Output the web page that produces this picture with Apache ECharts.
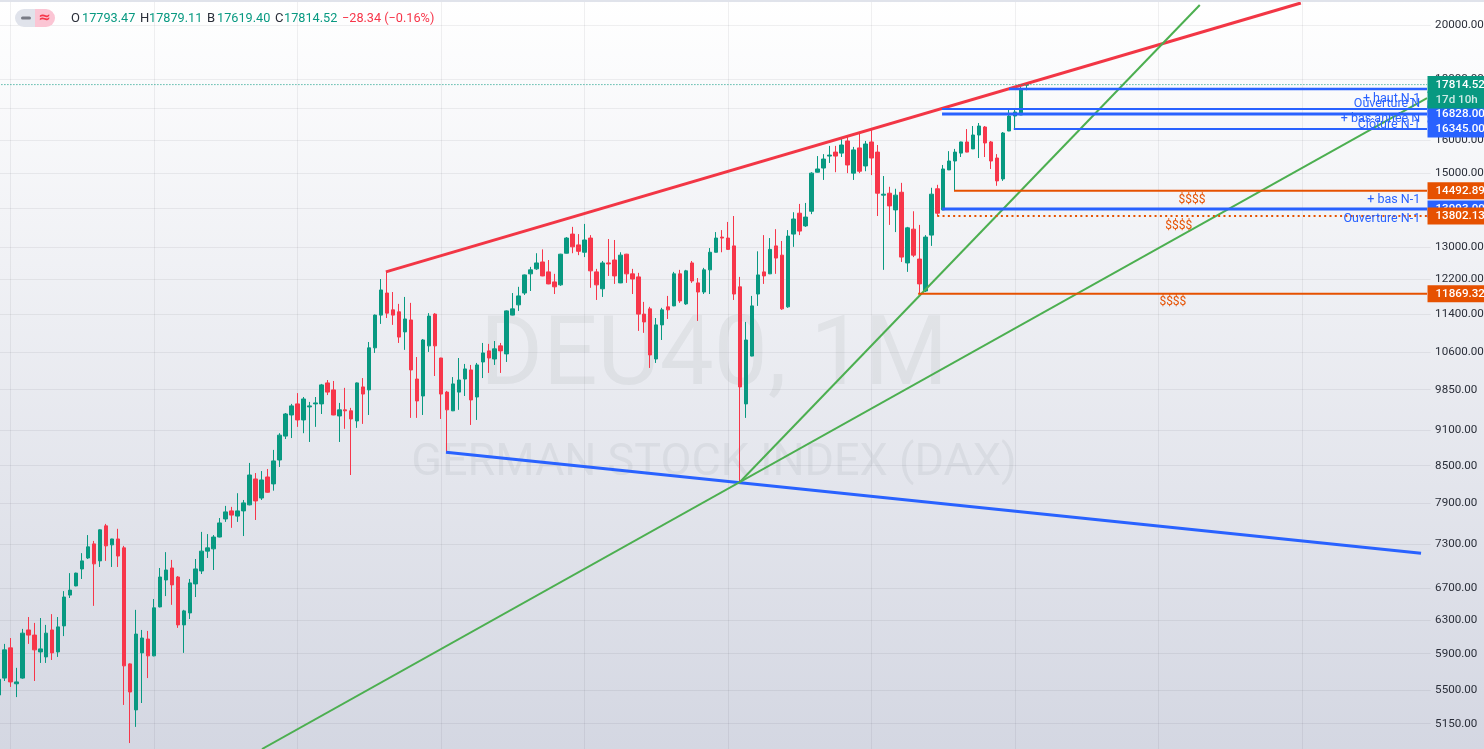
<!DOCTYPE html>
<html>
<head>
<meta charset="utf-8">
<style>html,body{margin:0;padding:0;overflow:hidden;background:#fff}#c{width:1484px;height:749px}</style>
<script src="https://cdn.jsdelivr.net/npm/echarts@6/dist/echarts.min.js"></script>
</head>
<body>
<div id="c"></div>
<script>
// monthly candles [open, close, low, high], first month Nov 2009
const monthlyOHLC = [
[5445,5614,5392,5641],[5627,5944,5595,6013],[5967,5585,5531,6082],[5565,5585,5423,5740],[5627,6140,5620,6191],
[6178,6117,6013,6335],[6117,5944,5595,6263],[5920,5955,5795,6323],[5863,6140,5795,6239],[6178,5909,5828,6371],
[5920,6215,5863,6335],[6227,6586,6105,6662],[6611,6675,6574,6899],[6730,6899,6725,6905],[6955,7065,6821,7172],
[7105,7260,7091,7428],[7302,7024,6474,7344],[7065,7504,6982,7510],[7562,7274,7065,7591],[7288,7372,6982,7375],
[7372,7132,6982,7519],[7246,5762,5341,7274],[5784,5477,4960,5790],[5290,6129,5118,6424],[5909,6082,5361,6178],
[6070,5875,5627,6166],[5875,6449,5870,6561],[6461,6847,6455,6968],[6808,6941,6598,7186],[6968,6743,6487,7078],
[6847,6239,6203,6860],[6239,6411,5909,6424],[6386,6769,6311,6821],[6756,6955,6586,7091],[6928,7200,6887,7474],
[7200,7246,7105,7442],[7232,7400,6941,7428],[7400,7605,7395,7678],[7664,7770,7620,7861],[7785,7722,7533,7846],
[7707,7785,7620,8057],[7785,7907,7414,7952],[7877,8347,7870,8545],[8283,7937,7649,8379],[7982,8267,7952,8411],
[8315,8072,8065,8445],[8204,8578,8097,8764],[8594,9019,8479,9053],[9002,9397,8951,9415],[9379,9546,8968,9583],
[9583,9289,9165,9786],[9289,9675,9053,9712],[9527,9546,8900,9620],[9583,9601,9165,9712],[9583,9943,9397,9962],
[9981,9805,9749,10038],[9847,9379,9375,10019],[9361,9473,8900,9601],[9473,9455,9130,9886],[9455,9307,8347,9509],
[9271,9981,9147,9990],[9904,9768,9218,10076],[9847,10685,9379,10807],[10685,11386,10580,11400],[11386,11956,11193,12213],
[11885,11430,11322,12383],[11503,11386,11172,11908],[11459,10911,10787,11637],[11021,11301,10643,11795],[11279,10236,9326,11660],
[10057,9638,9326,10496],[9731,10849,9379,10870],[10726,11364,10600,11430],[11408,10726,10116,11430],[10476,9768,9307,10480],
[9805,9473,8713,9828],[9455,9962,9450,10095],[9805,10038,9473,10476],[10057,10256,9731,10356],[10236,9657,9199,10336],
[9712,10336,9289,10376],[10396,10580,10076,10787],[10622,10476,10177,10767],[10456,10664,10336,10828],[10726,10622,10177,10787],
[10560,11480,10396,11490],[11386,11525,11380,11885],[11615,11818,11480,12029],[11885,12310,11840,12320],[12336,12432,11932,12504],
[12456,12600,12432,12840],[12624,12286,12280,12936],[12383,12097,12090,12672],[12144,12029,11862,12336],[12075,12816,12052,12825],
[12840,13224,12835,13249],[13326,13000,12840,13514],[13049,12888,12792,13326],[12864,13174,12744,13592],[13224,12408,12006,13300],
[12383,12075,11726,12456],[11983,12600,11795,12648],[12600,12576,12286,13199],[12672,12286,12097,13174],[12121,12792,12115,12864],
[12816,12336,12121,12825],[12336,12213,11862,12456],[12263,11408,11042,12360],[11408,11236,11000,11682],[11525,10539,10276,11570],
[10456,11172,10376,11322],[11172,11503,10849,11548],[11570,11503,11301,11818],[11592,12336,11585,12383],[12336,11704,11660,12432],
[11637,12408,11615,12432],[12600,12167,12121,12648],[12121,11908,11258,12236],[11908,12432,11862,12480],[12432,12864,11862,12970],
[12864,13224,12860,13378],[13249,13224,12864,13430],[13224,12936,12930,13644],[13024,11862,11726,13802],[12029,9904,8235,12263],
[9583,10849,9326,11236],[10516,11592,10510,11818],[11862,12310,11592,12888],[12383,12286,12097,13300],[12336,12936,12330,13224],
[13024,12720,12336,13454],[12792,11525,11503,13149],[11570,13274,11548,13430],[13326,13722,13000,13904],[13878,13404,13300,14130],
[13540,13774,13514,14157],[13930,15000,13852,15028],[15028,15122,15020,15506],[15150,15417,14804,15565],[15506,15535,15300,15815],
[15626,15506,15028,15815],[15595,15843,15477,16029],[15967,15240,15000,16123],[15000,15693,14804,15784],[15753,15056,15000,16216],
[15211,15874,15056,15967],[15936,15447,14944,16310],[15626,14427,13802,15843],[14373,14400,12432,14916],[14427,14076,13566,14608],
[13967,14373,13378,14552],[14454,12744,12624,14720],[12600,13488,12383,13514],[13454,12792,12744,13930],[12696,12097,11862,13566],
[11932,13249,11908,13300],[13300,14400,13024,14580],[14552,13878,13802,14664],[13967,15122,13960,15240],[15095,15358,15090,15655],
[15358,15626,14492,15723],[15595,15936,15477,15945],[15936,15626,15620,16340],[15723,16153,15718,16438],[16153,16438,15447,16534],
[16406,15905,15477,16438],[15936,15358,15122,15967],[15447,14776,14636,15565],[14832,16216,14776,16247],[16280,16760,16275,16958],
[16760,16890,16345,16990],[16793,17670,16790,17730],[17793.47,17814.52,17619.40,17879.11]
];
const categories = [];
for (let i = 0, y = 2009, m = 11; i < 240; i++) {
  categories.push(y + '-' + String(m).padStart(2, '0'));
  m++; if (m > 12) { m = 1; y++; }
}
const priceTicks = [20000,18000,17000,16000,15000,14000,13000,12200,11400,10600,9850,9100,8500,7900,7300,6700,6300,5900,5500,5150];
const lastClose = 17814.52;

// trend lines: [month index, price] end points
const redLine = [[64.8,12383],[217.8,20873]];
const blueLine = [[74.85,8726],[237.9,7169]];
const greenSteep = [[124,8235],[200.9,20792]];
const greenShallow = [[44.08,4903],[238.9,17356]];

// horizontal levels
const levelStarts = [169,157.8,157.8,169.8,159.8,157.8,157,153.8];
const levelPrices = [17662,16990,16828,16345,14492.89,13993,13802.13,11869.32];
const levelWidths = [2.5,2,3,2,2,3,2,2];
const levelColours = ['#2962ff','#2962ff','#2962ff','#2962ff','#e65100','#2962ff','#e65100','#e65100'];
const levelDash = ['solid','solid','solid','solid','solid','solid',[2,3.3],'solid'];
const levelEnd = 238.9;

// text notes on the drawing
const noteTexts = ['+ haut N-1','Ouverture N','+ bas année N','Clôture N-1','+ bas N-1','Ouverture N-1'];
const notePrices = [17323,17156,16664,16470,14238,13722];
const noteEnd = 237.85;
const moneyTexts = ['$$$$','$$$$','$$$$'];
const moneyIdx = [199.6,197.4,196.4];
const moneyPrices = [14238,13540,11682];

// price tags on the scale
const tagTexts = ['16990.00','13993.00','14492.89','11869.32','13802.13','16828.00','16345.00','17d 10h','17814.52'];
const tagPrices = [16990,13993,14492.89,11869.32,13802.13,16828,16345,17290,17814.52];
const tagColours = ['#2962ff','#2962ff','#e65100','#e65100','#e65100','#2962ff','#2962ff','#089981','#089981'];

const GREEN = '#089981', RED = '#f7364a';
const FONT = 'Roboto, "Liberation Sans", sans-serif';

const lineSeries = (data, color, width, type) => ({
  type: 'line', xAxisIndex: 1, yAxisIndex: 0, data, symbol: 'none', silent: true, z: 5,
  lineStyle: { color, width, type: type || 'solid' }
});

const levelSeries = levelPrices.map((p, i) =>
  lineSeries([[levelStarts[i], p], [levelEnd, p]], levelColours[i], levelWidths[i], levelDash[i]));

const noteSeries = {
  type: 'scatter', xAxisIndex: 1, yAxisIndex: 0, symbolSize: 1, silent: true, clip: false, z: 6,
  itemStyle: { color: 'transparent', opacity: 1 },
  data: noteTexts.map((t, i) => ({
    value: [noteEnd, notePrices[i]],
    label: { show: true, position: 'left', distance: 0, formatter: t, color: '#2962ff', fontSize: 12.5, fontFamily: FONT, padding: [2, 0, 0, 0] }
  })).concat(moneyTexts.map((t, i) => ({
    value: [moneyIdx[i], moneyPrices[i]],
    label: { show: true, position: 'inside', formatter: t, color: '#e65100', fontSize: 12, fontFamily: FONT, padding: [2, 0, 0, 0] }
  })))
};

const tagSeries = {
  type: 'scatter', xAxisIndex: 1, yAxisIndex: 0, symbolSize: 1, silent: true, clip: false, z: 20,
  itemStyle: { color: 'transparent', opacity: 1 },
  data: tagTexts.map((t, i) => ({
    value: [levelEnd, tagPrices[i]],
    label: {
      show: true, position: 'right', distance: 0, formatter: t, color: t === '17d 10h' ? 'rgba(255,255,255,0.8)' : '#fff',
      backgroundColor: tagColours[i], width: 49, height: 13, lineHeight: 13, padding: [4, 0, 0, 8],
      align: 'left', fontSize: 11.6, fontFamily: FONT, fontWeight: 500
    }
  }))
};

const legendLetters = [['O',71],['H',140],['B',207],['C',275]];
const legendValues = [['17793.47',82],['17879.11',149],['17619.40',217],['17814.52',284]];

const chart = echarts.init(document.getElementById('c'), null, { width: 1484, height: 749 });
chart.setOption({
  animation: false,
  backgroundColor: {
    type: 'linear', x: 0, y: 0, x2: 0, y2: 1,
    colorStops: [{ offset: 0, color: '#ffffff' }, { offset: 1, color: '#d4d7e2' }]
  },
  grid: { left: -4.59, top: 0, width: 1435.2, height: 749, containLabel: false, outerBoundsMode: 'none' },
  xAxis: [
    {
      type: 'category', data: categories, boundaryGap: true, position: 'bottom',
      axisLine: { show: false }, axisTick: { show: false }, axisLabel: { show: false },
      splitLine: { show: true, alignWithLabel: true, interval: i => i % 24 === 2, lineStyle: { color: 'rgba(42,46,57,0.07)', width: 1 } }
    },
    { type: 'value', min: -0.5, max: 239.5, show: false, splitLine: { show: false } }
  ],
  yAxis: [{
    type: 'log', logBase: 10, min: 4903, max: 20995, position: 'right',
    axisLine: { show: false },
    axisTick: { show: false, customValues: priceTicks },
    axisLabel: { customValues: priceTicks, margin: 4.5, color: '#2a2e39', fontSize: 11.6, fontFamily: FONT, padding: [3, 0, 0, 0], formatter: v => Number(v).toFixed(2), showMinLabel: true, showMaxLabel: true },
    splitLine: { show: true, lineStyle: { color: 'rgba(42,46,57,0.07)', width: 1 } }
  }],
  graphic: { elements: [
    { type: 'rect', silent: true, z: 50, shape: { x: 0, y: 0, width: 1484, height: 2 }, style: { fill: '#e0e3eb' } },
    { type: 'text', silent: true, z: -5, style: { x: 714, y: 360, text: 'DEU40, 1M', align: 'center', verticalAlign: 'middle', font: '96px Roboto, sans-serif', fill: 'rgba(42,46,57,0.06)' } },
    { type: 'text', silent: true, z: -5, style: { x: 714, y: 464, text: 'GERMAN STOCK INDEX (DAX)', align: 'center', verticalAlign: 'middle', font: '45px Roboto, sans-serif', fill: 'rgba(42,46,57,0.06)' } },
    { type: 'rect', silent: true, z: 50, shape: { x: 15, y: 9, width: 20, height: 18, r: [9, 0, 0, 9] }, style: { fill: '#e0e3eb' } },
    { type: 'rect', silent: true, z: 50, shape: { x: 35, y: 9, width: 20, height: 18, r: [0, 9, 9, 0] }, style: { fill: '#fbc5d4' } },
    { type: 'rect', silent: true, z: 51, shape: { x: 21, y: 16.5, width: 10, height: 3, r: 1.5 }, style: { fill: '#787b86' } },
    { type: 'text', silent: true, z: 51, style: { x: 44.5, y: 18, text: '≈', align: 'center', verticalAlign: 'middle', font: 'bold 15px "DejaVu Sans", sans-serif', fill: RED } },
    ...legendLetters.map(([t, x]) => ({ type: 'text', silent: true, z: 50, style: { x, y: 19, text: t, verticalAlign: 'middle', font: '13px ' + FONT, fill: '#2a2e39' } })),
    ...legendValues.map(([t, x]) => ({ type: 'text', silent: true, z: 50, style: { x, y: 19, text: t, verticalAlign: 'middle', font: '12.7px ' + FONT, fill: GREEN } })),
    { type: 'text', silent: true, z: 50, style: { x: 342, y: 19, text: '−28.34 (−0.16%)', verticalAlign: 'middle', font: '12.7px ' + FONT, fill: RED } }
  ] },
  series: [
    {
      type: 'candlestick', xAxisIndex: 0, yAxisIndex: 0, data: monthlyOHLC, barWidth: 4, silent: true, z: 3,
      itemStyle: { color: GREEN, color0: RED, borderColor: GREEN, borderColor0: RED, borderWidth: 1 }
    },
    lineSeries(redLine, '#f23645', 3),
    lineSeries(blueLine, '#2962ff', 3),
    lineSeries(greenSteep, '#4caf50', 2),
    lineSeries(greenShallow, '#4caf50', 2),
    lineSeries([[-0.5, lastClose], [levelEnd, lastClose]], GREEN, 1, [1, 2]),
    ...levelSeries,
    noteSeries,
    tagSeries
  ]
});
</script>
</body>
</html>
